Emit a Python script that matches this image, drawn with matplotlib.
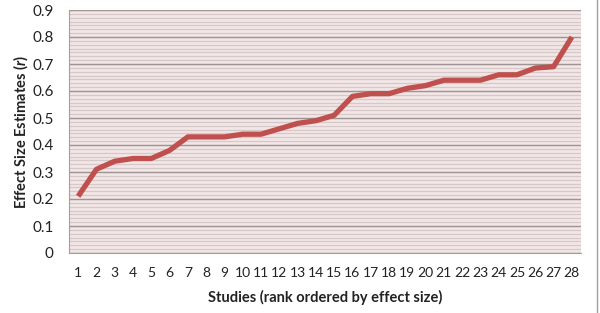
import matplotlib
matplotlib.use("Agg")
import matplotlib.pyplot as plt
import numpy as np
from matplotlib.lines import Line2D

studies = list(range(1, 29))
effect_sizes = [0.21, 0.31, 0.34, 0.35, 0.35, 0.38, 0.43, 0.43, 0.43, 0.44,
                0.44, 0.46, 0.48, 0.49, 0.51, 0.58, 0.59, 0.59, 0.61, 0.62,
                0.64, 0.64, 0.64, 0.66, 0.66, 0.685, 0.69, 0.80]
y_ticks = [0, 0.1, 0.2, 0.3, 0.4, 0.5, 0.6, 0.7, 0.8, 0.9]
y_tick_labels = ["0", "0.1", "0.2", "0.3", "0.4", "0.5", "0.6", "0.7", "0.8", "0.9"]

plt.rcParams['font.family'] = ['Lato', 'DejaVu Sans']
plt.rcParams['mathtext.fontset'] = 'custom'
plt.rcParams['mathtext.it'] = 'Lato:italic:bold'
plt.rcParams['mathtext.rm'] = 'Lato:bold'

fig = plt.figure(figsize=(6.0, 3.13), dpi=100)
ax = fig.add_axes([69/600, 1-253/313, 512/600, 243/313])
ax.set_facecolor("#F2E6E6")

# minor grid
minor = np.arange(0, 0.9 + 1e-9, 0.1/7)
for m in minor:
    ax.axhline(m, color="#D6C8C8", lw=0.9, zorder=1)
for t in y_ticks:
    ax.axhline(t, color="#9E9494", lw=1.0, zorder=1.5)

ax.plot(studies, effect_sizes, color="#C0504D", lw=3.8, solid_joinstyle="round",
        solid_capstyle="butt", zorder=3)

ax.set_xlim(0.5, 28.5)
ax.set_ylim(0, 0.9)
ax.set_yticks(y_ticks)
ax.set_yticklabels(y_tick_labels)
ax.set_xticks(studies)
ax.set_xticklabels([str(s) for s in studies])
ax.tick_params(axis="both", length=0, colors="#222222")
ax.tick_params(axis="x", pad=10, labelsize=10)
ax.tick_params(axis="y", pad=11, labelsize=11)

for side in ["top", "right"]:
    ax.spines[side].set_visible(False)
ax.spines["left"].set_color("#A0A0A0")
ax.spines["bottom"].set_color("#A0A0A0")

ax.set_xlabel("Studies (rank ordered by effect size)", fontsize=10.5, fontweight="bold",
              labelpad=8, color="#222222")
ax.set_ylabel(r"Effect Size Estimates ($\mathit{r}$)", fontsize=10.5, fontweight="bold",
              labelpad=2, color="#222222")

fig.add_artist(Line2D([597/600, 597/600], [0, 1], color="#A0A0A0", lw=1.0,
                      transform=fig.transFigure))

fig.savefig("out.png", dpi=100)
